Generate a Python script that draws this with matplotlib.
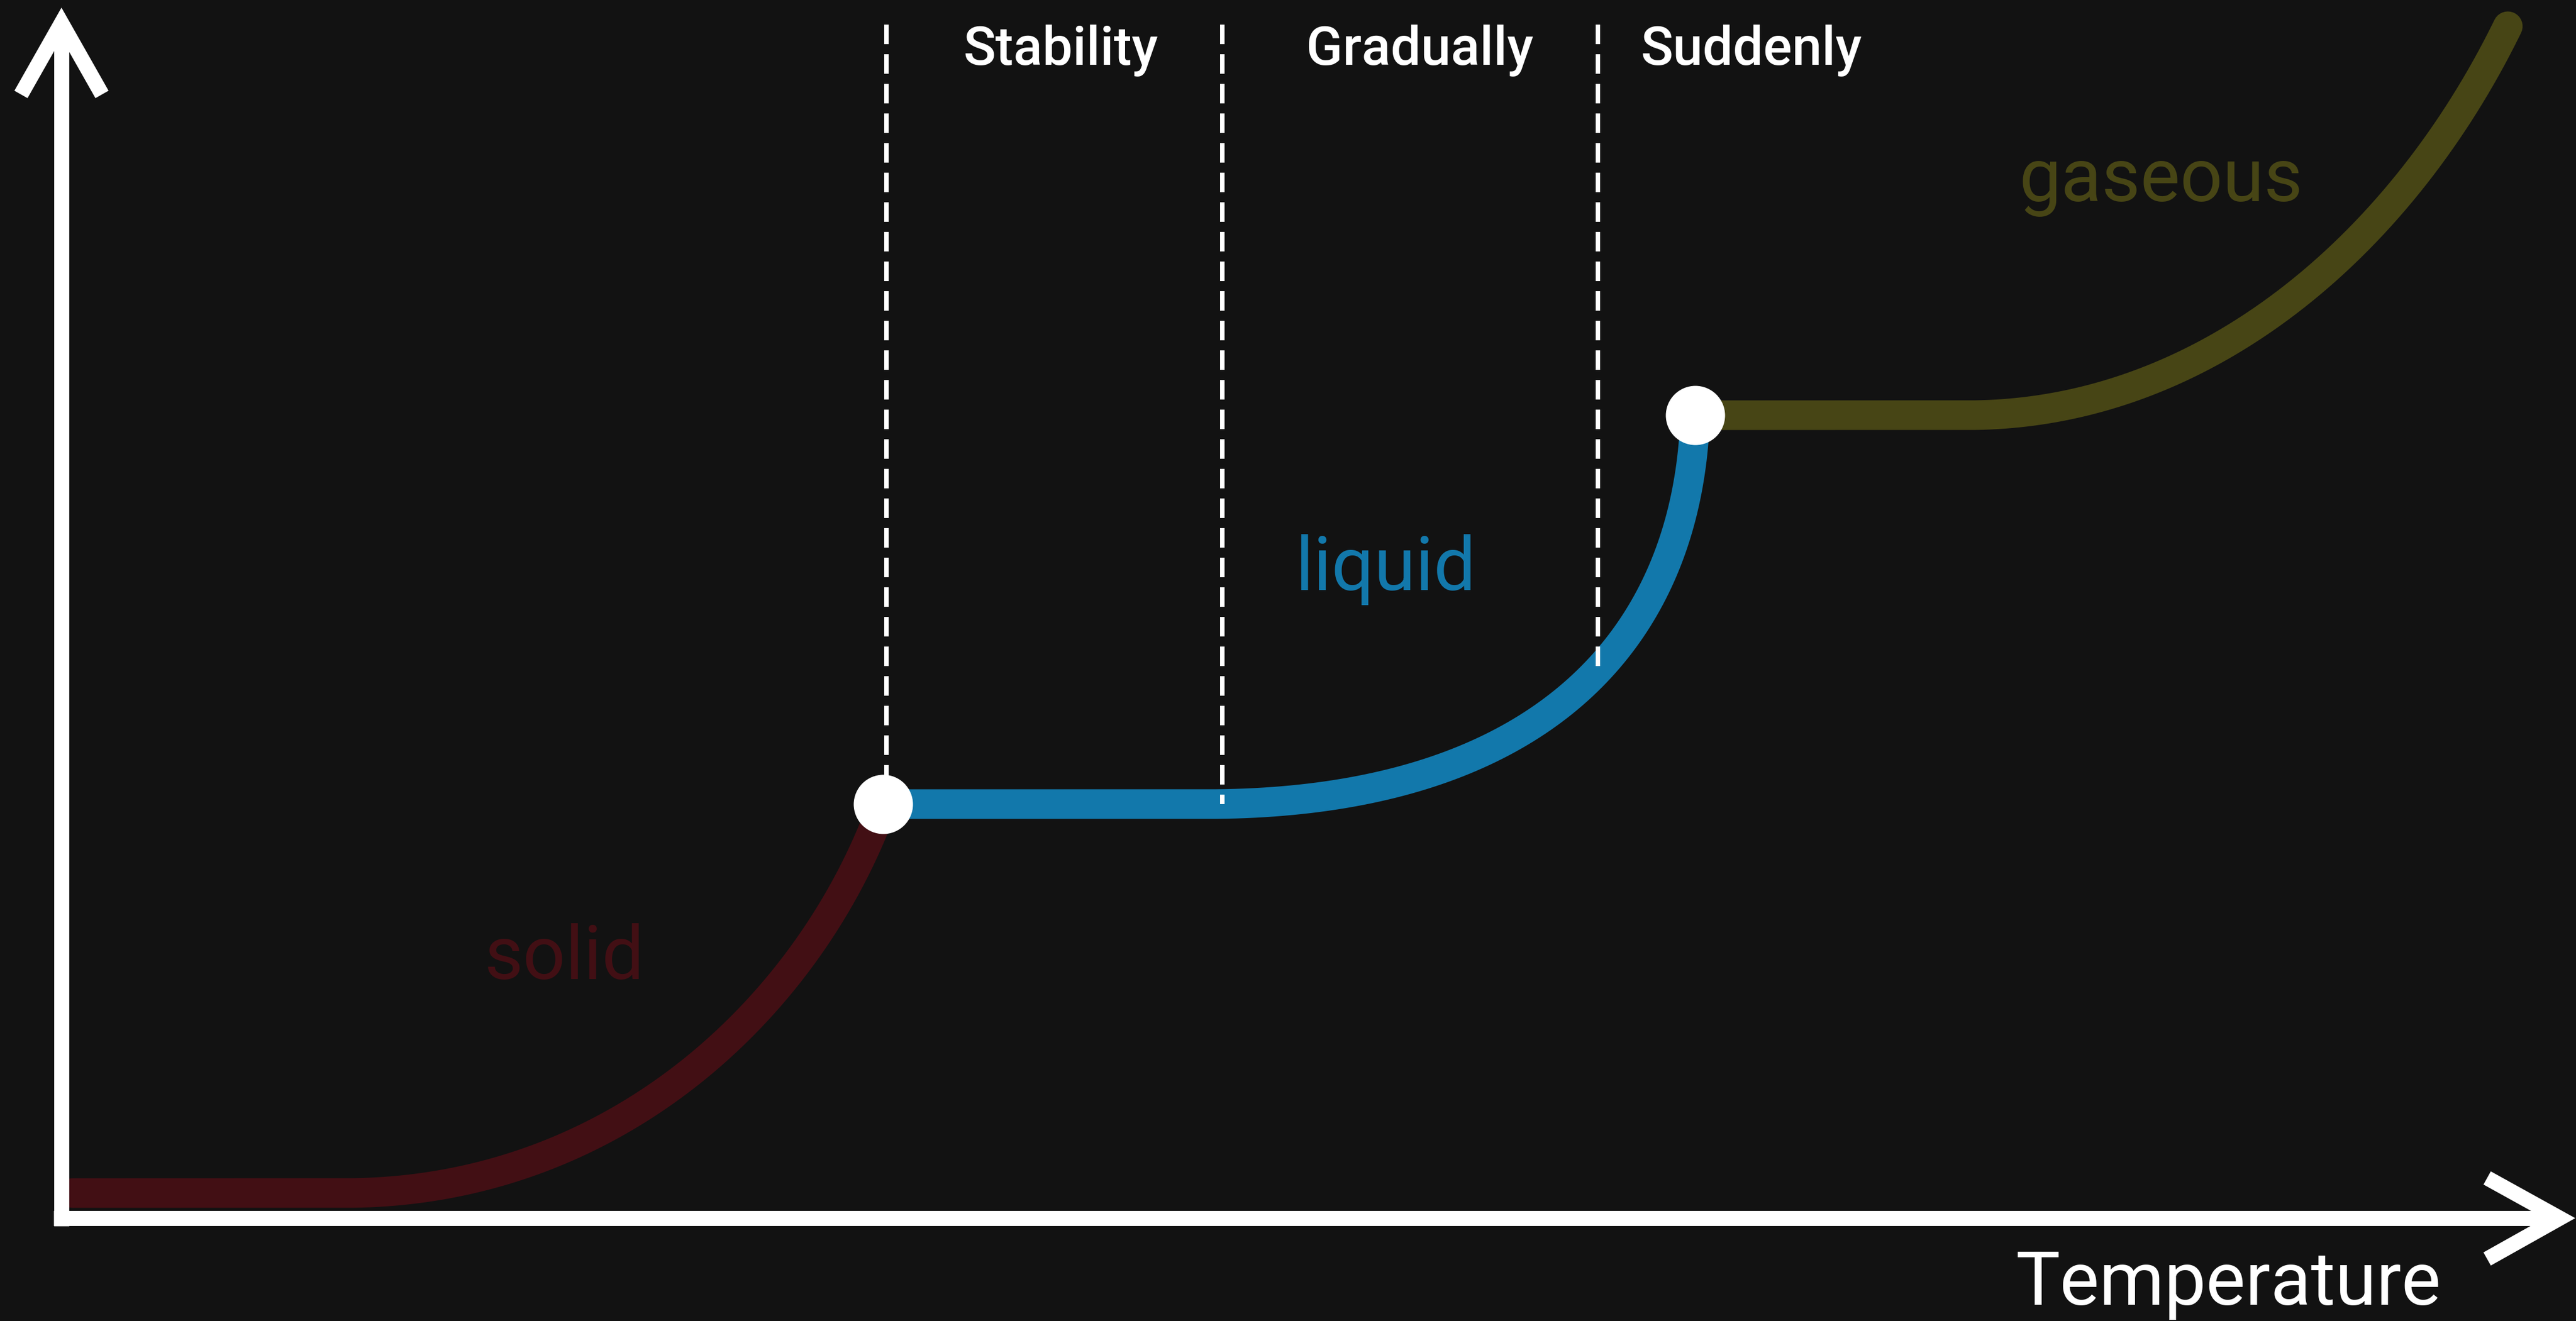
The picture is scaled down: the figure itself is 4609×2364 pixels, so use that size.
import numpy as np
import matplotlib
matplotlib.use("Agg")
import matplotlib.pyplot as plt

plt.rcParams['font.family'] = ['Roboto', 'DejaVu Sans']
plt.rcParams['lines.scale_dashes'] = False

# ---- data (abstract units: origin at the axes corner) ----
phase_labels = ["solid", "liquid", "gaseous"]
phase_colors = ["#420f14", "#1278ab", "#474515"]
seg_start_x = [20, 1470, 2923]
plateau_end_x = [507, 2048, 3411]
level_y = [45, 741, 1437]
seg_end_x = [1470, 2923, 4377]
seg_end_y = [741, 1437, 2133]
ctrl1_x = [990, 2640, 3840]
ctrl2_x = [1340, 2910, 4190]
ctrl2_y = [380, 1030, 1750]

transition_x = [1470, 2923]
transition_y = [741, 1437]

label_x = [757, 2208, 3503]
label_y = [428, 1124, 1820]

region_names = ["Stability", "Gradually", "Suddenly"]
region_bounds_x = [1476, 2077, 2749]
region_label_x = [1788, 2430, 3023]
region_label_y = 2064
dash_top_y = 2136

axis_label = "Temperature"
axis_label_pos = (3497, -155)

BG = "#121212"
W, H = 4609, 2364
DPI = 100
px = 72.0 / DPI  # points per pixel

fig = plt.figure(figsize=(W / DPI, H / DPI), dpi=DPI, facecolor=BG)
ax = fig.add_axes([0, 0, 1, 1])
ax.set_facecolor(BG)
ax.set_xlim(-110, W - 110)
ax.set_ylim(-184, H - 184)
ax.axis("off")


def bezier(p0, p1, p2, p3, n=200):
    t = np.linspace(0, 1, n)[:, None]
    pts = ((1 - t) ** 3) * p0 + 3 * ((1 - t) ** 2) * t * p1 + 3 * (1 - t) * t ** 2 * p2 + t ** 3 * p3
    return pts[:, 0], pts[:, 1]


curves = []
for i in range(3):
    p0 = np.array([plateau_end_x[i], level_y[i]])
    p1 = np.array([ctrl1_x[i], level_y[i]])
    p2 = np.array([ctrl2_x[i], ctrl2_y[i]])
    p3 = np.array([seg_end_x[i], seg_end_y[i]])
    bx, by = bezier(p0, p1, p2, p3)
    xs = np.concatenate([[seg_start_x[i]], bx])
    ys = np.concatenate([[level_y[i]], by])
    curves.append((xs, ys))
    ax.plot(xs, ys, color=phase_colors[i], lw=53 * px, solid_capstyle="round",
            solid_joinstyle="round", zorder=2)
    ax.text(label_x[i], label_y[i], phase_labels[i], color=phase_colors[i],
            fontsize=134 * px, ha="left", va="baseline", zorder=3)

# dashed region boundaries
lx, ly = curves[1]
for xb in region_bounds_x:
    yb = float(np.interp(xb, lx, ly))
    ax.plot([xb, xb], [dash_top_y, yb], color="white", lw=8 * px,
            dashes=(35 * px, 18 * px), dash_capstyle="butt", zorder=4)

for name, xc in zip(region_names, region_label_x):
    ax.text(xc, region_label_y, name, color="white", fontsize=96 * px,
            fontweight="medium", ha="center", va="baseline", zorder=5)

# transition points
ax.scatter(transition_x, transition_y, s=(106 * px) ** 2, color="white",
           linewidths=0, zorder=6)

# axes with arrows
alw = 27 * px
ax.plot([0, 0], [-14, 2139], color="white", lw=alw, solid_capstyle="butt", zorder=7)
ax.plot([-14, 4465], [0, 0], color="white", lw=alw, solid_capstyle="butt", zorder=7)
ax.plot([-72.5, 0, 72.5], [2011, 2139, 2011], color="white", lw=alw,
        solid_capstyle="butt", solid_joinstyle="miter", zorder=7)
ax.plot([4340, 4470, 4340], [72, 0, -73], color="white", lw=alw,
        solid_capstyle="butt", solid_joinstyle="miter", zorder=7)

ax.text(axis_label_pos[0], axis_label_pos[1], axis_label, color="white",
        fontsize=133 * px, ha="left", va="baseline", zorder=5)

fig.savefig("out.png", dpi=DPI, facecolor=BG)
